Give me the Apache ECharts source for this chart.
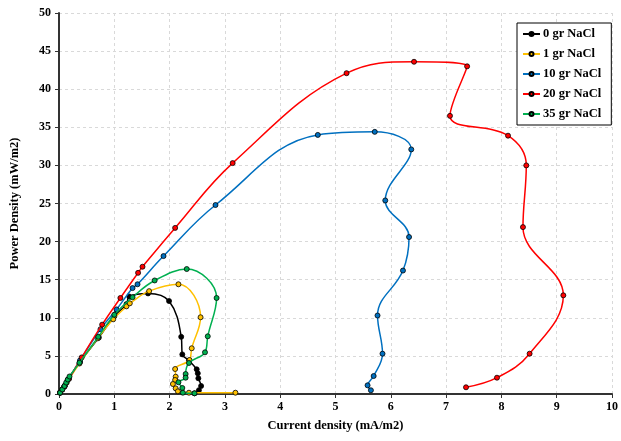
<!DOCTYPE html>
<html>
<head>
<meta charset="utf-8">
<script src="https://cdn.jsdelivr.net/npm/echarts@6/dist/echarts.min.js"></script>
<style>
  html, body { margin: 0; padding: 0; background: #fff; }
  #chart { width: 621px; height: 441px; }
</style>
</head>
<body>
<div id="chart"></div>
<script>
// Data (current density mA/m2, power density mW/m2)
var seriesNames = ['0 gr NaCl', '1 gr NaCl', '10 gr NaCl', '20 gr NaCl', '35 gr NaCl'];
var seriesColors = ['#000000', '#FFC000', '#0070C0', '#FF0000', '#00B050'];

var nacl0 = [
  [0.02, 0.17], [0.06, 0.6], [0.10, 1.05], [0.16, 1.9], [0.38, 4.2], [0.72, 7.4],
  [1.00, 10.2], [1.22, 11.8], [1.27, 12.8], [1.61, 13.2], [1.99, 12.2], [2.21, 7.5],
  [2.23, 5.2], [2.35, 4.4], [2.49, 3.24], [2.51, 2.71], [2.52, 2.06], [2.57, 1.05],
  [2.53, 0.5], [2.45, 0.09]
];
var nacl1 = [
  [0.02, 0.17], [0.06, 0.6], [0.10, 1.05], [0.14, 1.5], [0.37, 4.0], [0.70, 7.3],
  [0.98, 9.8], [1.22, 11.5], [1.28, 11.9], [1.63, 13.5], [2.16, 14.4], [2.56, 10.07],
  [2.40, 6.0], [2.36, 4.46], [2.10, 3.28], [2.11, 2.27], [2.10, 1.84], [2.06, 1.31],
  [2.11, 0.74], [2.15, 0.35], [2.35, 0.17], [3.19, 0.17]
];
var nacl10 = [
  [0.02, 0.2], [0.10, 1.0], [0.18, 2.0], [0.38, 4.4], [0.75, 8.5], [1.04, 11.1],
  [1.33, 13.9], [1.42, 14.4], [1.89, 18.1], [2.83, 24.8], [4.68, 34.0], [5.71, 34.4],
  [6.37, 32.1], [5.90, 25.4], [6.33, 20.6], [6.22, 16.2], [5.76, 10.3], [5.85, 5.29],
  [5.69, 2.36], [5.58, 1.14], [5.64, 0.49]
];
var nacl20 = [
  [0.02, 0.2], [0.10, 1.0], [0.18, 2.0], [0.41, 4.8], [0.78, 9.1], [1.11, 12.6],
  [1.43, 15.9], [1.51, 16.7], [2.10, 21.8], [3.14, 30.3], [5.20, 42.1], [6.42, 43.6],
  [7.38, 43.0], [7.07, 36.5], [8.12, 33.9], [8.45, 30.0], [8.39, 21.9], [9.12, 12.95],
  [8.51, 5.29], [7.92, 2.14], [7.36, 0.88]
];
var nacl35 = [
  [0.02, 0.17], [0.06, 0.6], [0.10, 1.05], [0.13, 1.5], [0.16, 1.9], [0.19, 2.3],
  [0.37, 4.1], [0.71, 7.5], [1.00, 10.4], [1.33, 12.7], [1.73, 14.9], [2.31, 16.4],
  [2.85, 12.6], [2.69, 7.57], [2.64, 5.47], [2.35, 4.07], [2.29, 2.62], [2.29, 2.14],
  [2.16, 1.54], [2.23, 0.79], [2.24, 0.17], [2.45, 0.09]
];
var allData = [nacl0, nacl1, nacl10, nacl20, nacl35];

var xTicks = { min: 0, max: 10, interval: 1 };
var yTicks = { min: 0, max: 50, interval: 5 };

var font = 'Liberation Serif, Times New Roman, serif';

var chart = echarts.init(document.getElementById('chart'));
var series = allData.map(function (d, i) {
  return {
    name: seriesNames[i],
    type: 'line',
    data: d,
    smooth: 0.4,
    symbol: 'circle',
    symbolSize: 5,
    showAllSymbol: true,
    lineStyle: { color: seriesColors[i], width: 1.5 },
    itemStyle: { color: seriesColors[i], borderColor: '#000', borderWidth: 0.8 },
    emphasis: { disabled: true },
    z: 2 + i
  };
});

chart.setOption({
  animation: false,
  backgroundColor: '#fff',
  grid: { left: 54, right: 5, top: 13, bottom: 47, containLabel: false },
  legend: {
    orient: 'vertical',
    left: 517,
    top: 23,
    padding: [4, 10, 4, 5],
    itemGap: 6,
    itemWidth: 17,
    itemHeight: 5,
    borderColor: '#000',
    borderWidth: 1,
    borderRadius: 0,
    backgroundColor: '#fff',
    textStyle: { fontFamily: font, fontWeight: 'bold', fontSize: 12.5, color: '#000', lineHeight: 14, padding: [0, 0, 0, -2] },
    data: seriesNames
  },
  xAxis: {
    type: 'value',
    min: xTicks.min, max: xTicks.max, interval: xTicks.interval,
    name: 'Current density (mA/m2)',
    nameLocation: 'middle',
    nameGap: 25,
    nameTextStyle: { fontFamily: font, fontWeight: 'bold', fontSize: 12.5, color: '#000' },
    axisLine: { lineStyle: { color: '#333', width: 2 } },
    axisTick: { show: true, inside: false, length: 4, lineStyle: { color: '#333' } },
    axisLabel: { fontFamily: font, fontWeight: 'bold', fontSize: 12, color: '#000', margin: 7 },
    splitLine: { show: true, lineStyle: { color: '#d9d9d9', type: [3, 3], width: 1 } }
  },
  yAxis: {
    type: 'value',
    min: yTicks.min, max: yTicks.max, interval: yTicks.interval,
    name: 'Power Density (mW/m2)',
    nameLocation: 'middle',
    nameGap: 38,
    nameRotate: 90,
    nameTextStyle: { fontFamily: font, fontWeight: 'bold', fontSize: 12.5, color: '#000' },
    axisLine: { show: true, lineStyle: { color: '#333', width: 2 } },
    axisTick: { show: true, inside: false, length: 4, lineStyle: { color: '#333' } },
    axisLabel: { fontFamily: font, fontWeight: 'bold', fontSize: 12, color: '#000', margin: 8 },
    splitLine: { show: true, lineStyle: { color: '#d9d9d9', type: [3, 3], width: 1 } }
  },
  series: series
});
</script>
</body>
</html>
